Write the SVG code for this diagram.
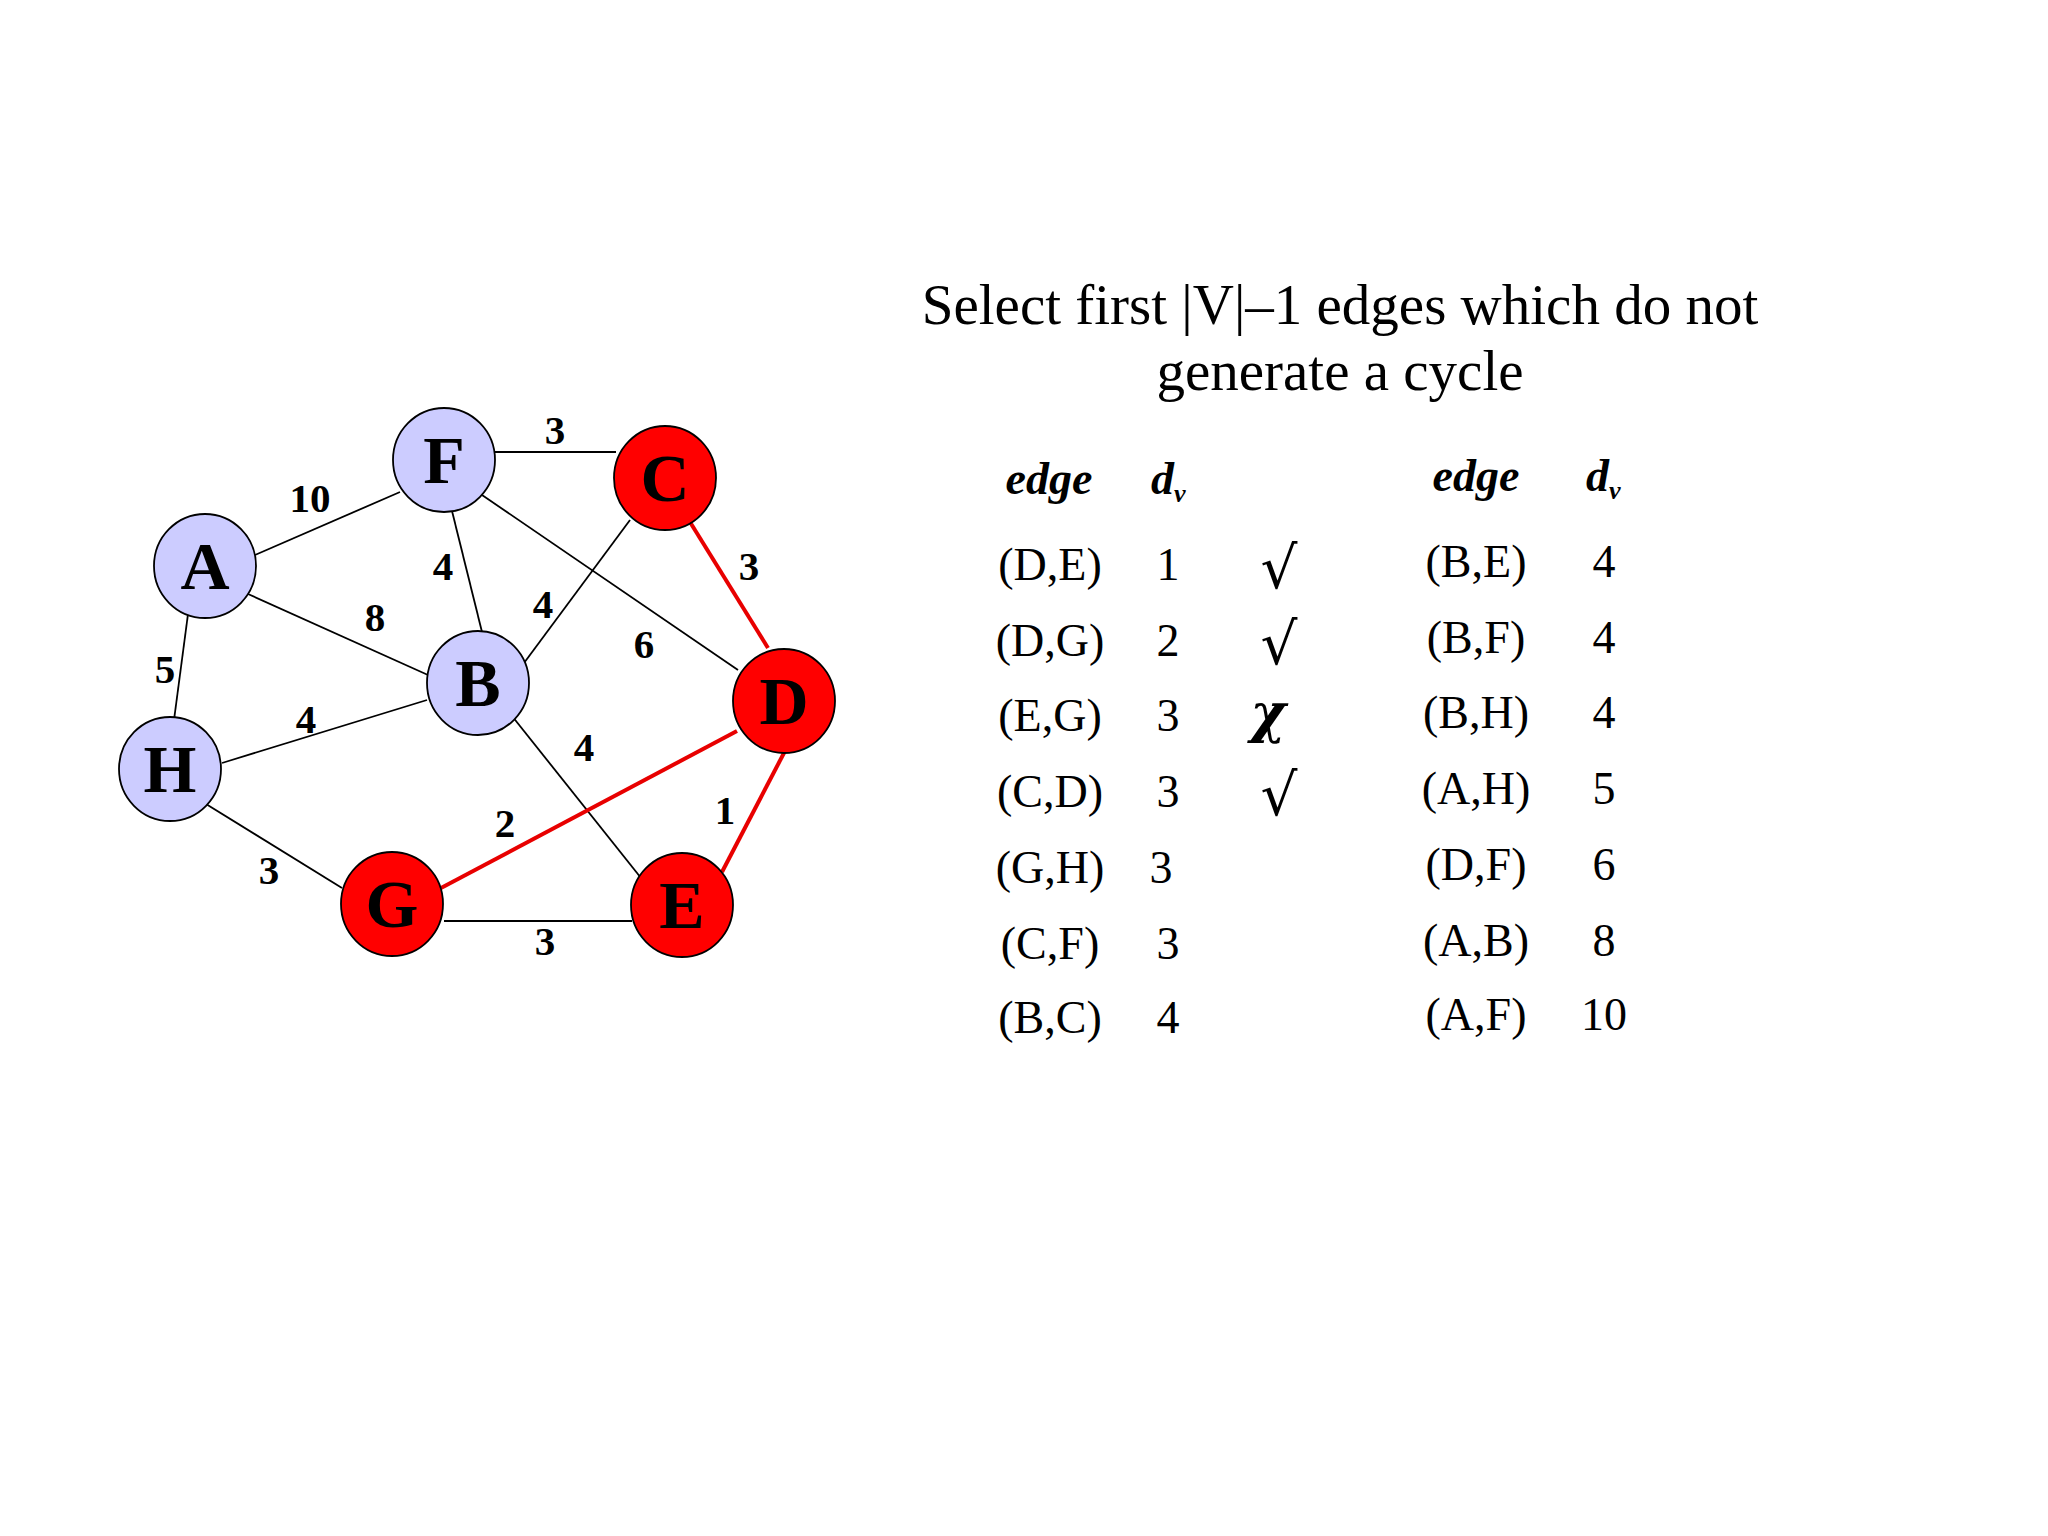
<svg xmlns="http://www.w3.org/2000/svg" width="2048" height="1536" viewBox="0 0 2048 1536">
<style>
.e{stroke:#000;stroke-width:1.8;fill:none}
.r{stroke:#E80000;stroke-width:4;fill:none}
.nb{fill:#CCCCFF;stroke:#000;stroke-width:1.8}
.nr{fill:#FF0000;stroke:#000;stroke-width:1.8}
.nl{font-family:"Liberation Serif",serif;font-weight:bold;font-size:68px;text-anchor:middle;fill:#000}
.w{font-family:"Liberation Serif",serif;font-weight:bold;font-size:41px;text-anchor:middle;fill:#000}
.t{font-family:"Liberation Serif",serif;font-size:57px;text-anchor:middle;fill:#000}
.c{font-family:"Liberation Serif",serif;font-size:46px;text-anchor:middle;fill:#000}
.h{font-family:"Liberation Serif",serif;font-size:46px;font-weight:bold;font-style:italic;fill:#000}
.k{font-family:"DejaVu Serif","Liberation Serif",serif;font-size:58px;font-style:italic;text-anchor:middle;fill:#000}
.m{font-family:"DejaVu Serif","Liberation Serif",serif;font-size:54px;font-weight:bold;font-style:italic;text-anchor:middle;fill:#000}
</style>
<rect width="2048" height="1536" fill="#fff"/>
<g id="connectors">
<line class="e" x1="255" y1="555" x2="400" y2="492"/>
<line class="e" x1="495" y1="452" x2="616" y2="452"/>
<line class="e" x1="248" y1="594" x2="428" y2="675"/>
<line class="e" x1="452" y1="511" x2="482" y2="632"/>
<line class="e" x1="630" y1="520" x2="524" y2="663"/>
<line class="e" x1="482" y1="495" x2="738" y2="670"/>
<line class="e" x1="188" y1="614" x2="174" y2="720"/>
<line class="e" x1="222" y1="763" x2="427" y2="700"/>
<line class="e" x1="512" y1="716" x2="649" y2="888"/>
<line class="e" x1="206" y1="804" x2="342" y2="888"/>
<line class="e" x1="444" y1="921" x2="632" y2="921"/>
<line class="r" x1="690" y1="522" x2="768" y2="648"/>
<line class="r" x1="737" y1="731" x2="441" y2="888"/>
<line class="r" x1="785" y1="751" x2="722" y2="872"/>
</g>
<g id="weights">
<text class="w" x="555" y="444">3</text>
<text class="w" x="310" y="512">10</text>
<text class="w" x="443" y="580">4</text>
<text class="w" x="375" y="631">8</text>
<text class="w" x="543" y="618">4</text>
<text class="w" x="644" y="658">6</text>
<text class="w" x="749" y="580">3</text>
<text class="w" x="165" y="683">5</text>
<text class="w" x="306" y="733">4</text>
<text class="w" x="584" y="761">4</text>
<text class="w" x="505" y="837">2</text>
<text class="w" x="725" y="824">1</text>
<text class="w" x="269" y="884">3</text>
<text class="w" x="545" y="955">3</text>
</g>
<g id="node-F"><ellipse class="nb" cx="444" cy="460" rx="51" ry="52"/><text class="nl" x="444" y="483">F</text></g>
<g id="node-C"><ellipse class="nr" cx="665" cy="478" rx="51" ry="52"/><text class="nl" x="665" y="501">C</text></g>
<g id="node-A"><ellipse class="nb" cx="205" cy="566" rx="51" ry="52"/><text class="nl" x="205" y="589">A</text></g>
<g id="node-B"><ellipse class="nb" cx="478" cy="683" rx="51" ry="52"/><text class="nl" x="478" y="706">B</text></g>
<g id="node-D"><ellipse class="nr" cx="784" cy="701" rx="51" ry="52"/><text class="nl" x="784" y="724">D</text></g>
<g id="node-H"><ellipse class="nb" cx="170" cy="769" rx="51" ry="52"/><text class="nl" x="170" y="792">H</text></g>
<g id="node-G"><ellipse class="nr" cx="392" cy="904" rx="51" ry="52"/><text class="nl" x="392" y="927">G</text></g>
<g id="node-E"><ellipse class="nr" cx="682" cy="905" rx="51" ry="52"/><text class="nl" x="682" y="928">E</text></g>
<g id="title">
<text class="t" x="1340" y="324">Select first |V|–1 edges which do not</text>
<text class="t" x="1340" y="390">generate a cycle</text>
</g>
<g id="table">
<text class="h" x="1049" y="494" text-anchor="middle">edge</text>
<text class="h" x="1151" y="494">d<tspan font-size="26" dy="8">v</tspan></text>
<text class="h" x="1476" y="491" text-anchor="middle">edge</text>
<text class="h" x="1586" y="491">d<tspan font-size="26" dy="8">v</tspan></text>
<text class="c" x="1050" y="580">(D,E)</text><text class="c" x="1168" y="580">1</text>
<text class="c" x="1050" y="656">(D,G)</text><text class="c" x="1168" y="656">2</text>
<text class="c" x="1050" y="731">(E,G)</text><text class="c" x="1168" y="731">3</text>
<text class="c" x="1050" y="807">(C,D)</text><text class="c" x="1168" y="807">3</text>
<text class="c" x="1050" y="883">(G,H)</text><text class="c" x="1161" y="883">3</text>
<text class="c" x="1050" y="959">(C,F)</text><text class="c" x="1168" y="959">3</text>
<text class="c" x="1050" y="1033">(B,C)</text><text class="c" x="1168" y="1033">4</text>
<text class="k" x="1279" y="588">√</text>
<text class="k" x="1279" y="664">√</text>
<text class="m" x="1268" y="732">χ</text>
<text class="k" x="1279" y="815">√</text>
<text class="c" x="1476" y="577">(B,E)</text><text class="c" x="1604" y="577">4</text>
<text class="c" x="1476" y="653">(B,F)</text><text class="c" x="1604" y="653">4</text>
<text class="c" x="1476" y="728">(B,H)</text><text class="c" x="1604" y="728">4</text>
<text class="c" x="1476" y="804">(A,H)</text><text class="c" x="1604" y="804">5</text>
<text class="c" x="1476" y="880">(D,F)</text><text class="c" x="1604" y="880">6</text>
<text class="c" x="1476" y="956">(A,B)</text><text class="c" x="1604" y="956">8</text>
<text class="c" x="1476" y="1030">(A,F)</text><text class="c" x="1604" y="1030">10</text>
</g>
</svg>
